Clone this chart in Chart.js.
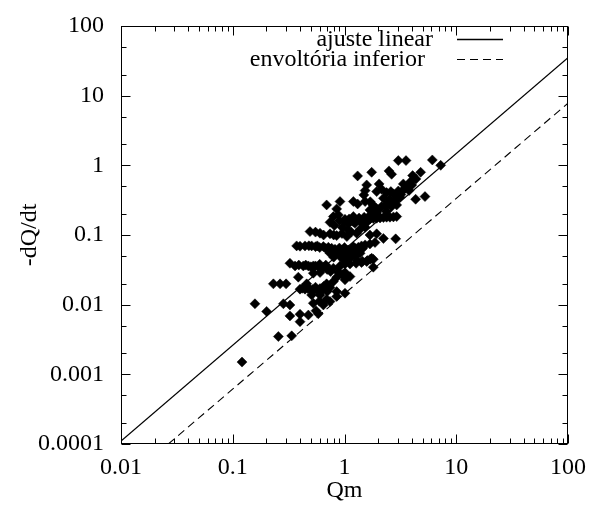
<!DOCTYPE html>
<html>
<head>
<meta charset="utf-8">
<script src="https://cdn.jsdelivr.net/npm/chart.js@4"></script>
<style>
  body { margin: 0; background: #fff; }
  #wrap { width: 589px; height: 515px; }
</style>
</head>
<body>
<div id="wrap"><canvas id="chart" width="589" height="515"></canvas></div>
<script>
// scatter data (Qm, -dQ/dt)
const qm = [
  3.03, 3.55, 6.11, 7.26, 1.31, 1.75, 2.50, 2.64, 4.07, 4.80, 4.36,
  1.58, 2.04, 3.36, 3.91, 3.60, 1.53, 1.94, 2.38, 2.74, 3.03, 3.36, 3.78, 1.49, 2.15,
  2.23, 2.52, 2.83, 3.14, 4.33, 5.25, 0.911, 1.20, 1.31, 1.53, 0.692, 0.851,
  1.69, 1.91, 2.15, 2.38, 2.64, 2.93, 1.94, 2.38,
  0.795, 0.881, 1.01, 1.20, 1.38, 1.47, 1.58, 1.69, 1.81, 1.94, 2.08, 2.23, 2.38, 2.55, 2.74, 2.93, 1.08, 1.24,
  0.742, 0.811, 0.956, 0.491, 0.604, 0.742, 0.851, 1.08, 1.05, 1.38, 1.53, 1.285, 1.69, 1.94,
  0.373, 0.443, 0.508, 0.571, 0.647, 0.717, 0.768, 0.822, 0.881, 0.943, 1.01, 1.08, 1.16, 1.24, 1.33, 1.42,
  1.53, 1.69, 1.875, 2.23, 2.87, 0.742, 0.822, 0.911, 1.01, 1.12, 1.24, 1.38, 1.05, 1.75,
  0.325, 0.361, 0.428, 0.475, 0.526, 0.583, 0.647, 0.717, 0.795, 0.911, 1.01, 1.12, 1.27, 1.42, 1.58, 1.81,
  1.81, 0.881, 1.01, 1.12, 0.851, 1.01, 0.386, 0.604, 0.526,
  0.231, 0.265, 0.300, 0.400, 0.443, 0.491, 0.544, 0.604, 0.669, 0.742, 0.459, 0.508, 0.604, 0.851, 1.01, 0.692, 0.795,
  0.158, 0.201, 0.284, 0.325, 0.526, 0.596, 0.647, 0.742, 0.692, 0.851,
  0.325, 0.400, 0.475, 0.400, 0.556, 0.583,
  0.256, 0.337, 0.121,
  // denser parts of the bands
  1.10, 1.25, 1.35, 1.50, 1.65, 1.80, 2.00, 1.45, 1.60, 1.20, 1.00, 0.90,
  0.40, 0.48, 0.55, 0.60, 0.68, 0.75, 0.85, 0.95, 1.05, 1.15, 1.30, 1.45, 0.80, 0.90, 1.20, 1.00,
  0.39, 0.45, 0.50, 0.55, 0.62, 0.70, 0.75, 0.68, 0.60,
  0.42, 0.47, 0.52, 0.57, 0.63, 0.70, 0.55, 0.65,
  0.80, 0.95, 1.10, 1.30, 1.45, 1.60, 1.70,
  2.30, 2.50, 2.90, 3.20, 2.60, 3.50, 4.00, 1.70, 1.80, 2.00,
  0.55, 0.65, 0.80, 0.95, 1.15, 0.95, 1.05
];
const dqdt = [
  1.17, 1.17, 1.195, 1.00, 0.705, 0.795, 0.831, 0.744, 0.712, 0.795, 0.638,
  0.523, 0.541, 0.541, 0.584, 0.495, 0.434, 0.420, 0.406, 0.389, 0.429, 0.444, 0.434, 0.376, 0.453,
  0.337, 0.326, 0.308, 0.348, 0.326, 0.356, 0.302, 0.302, 0.279, 0.302, 0.270, 0.237,
  0.229, 0.242, 0.256, 0.262, 0.256, 0.270, 0.210, 0.217,
  0.184, 0.194, 0.168, 0.184, 0.156, 0.161, 0.165, 0.170, 0.172, 0.174, 0.176, 0.178, 0.180, 0.180, 0.182, 0.184, 0.144, 0.1475,
  0.152, 0.1365, 0.128, 0.112, 0.106, 0.104, 0.098, 0.118, 0.095, 0.121, 0.129, 0.106, 0.100, 0.104,
  0.0698, 0.0698, 0.0698, 0.0698, 0.0682, 0.0667, 0.0646, 0.0625, 0.0611, 0.0611, 0.0611, 0.0611, 0.0625, 0.0646, 0.0667, 0.0698,
  0.0721, 0.0745, 0.078, 0.089, 0.088, 0.0547, 0.0518, 0.0518, 0.0501, 0.049, 0.0501, 0.0547, 0.0439, 0.0464,
  0.0393, 0.036, 0.036, 0.036, 0.036, 0.0352, 0.0345, 0.0334, 0.0334, 0.036, 0.0385, 0.0385, 0.0393, 0.0402, 0.0416, 0.0449,
  0.0345, 0.0289, 0.0289, 0.0253, 0.0248, 0.0227, 0.0248, 0.0289, 0.0283,
  0.0199, 0.0199, 0.0199, 0.0167, 0.0167, 0.0167, 0.0167, 0.0170, 0.0172, 0.0176, 0.0199, 0.0138, 0.0138, 0.0154, 0.0146, 0.0199, 0.0215,
  0.0103, 0.0080, 0.0103, 0.0099, 0.0105, 0.0112, 0.0099, 0.0111, 0.0120, 0.0131,
  0.0069, 0.0073, 0.0071, 0.0057, 0.0082, 0.0074,
  0.00349, 0.00357, 0.0015,
  0.170, 0.165, 0.175, 0.180, 0.185, 0.190, 0.190, 0.150, 0.155, 0.155, 0.155, 0.160,
  0.069, 0.070, 0.068, 0.066, 0.064, 0.062, 0.058, 0.057, 0.058, 0.059, 0.061, 0.064, 0.056, 0.065, 0.068, 0.066,
  0.037, 0.037, 0.035, 0.036, 0.034, 0.032, 0.030, 0.037, 0.038,
  0.0172, 0.0170, 0.0165, 0.0162, 0.0160, 0.0155, 0.0178, 0.0183,
  0.048, 0.046, 0.045, 0.043, 0.042, 0.043, 0.045,
  0.26, 0.30, 0.33, 0.38, 0.42, 0.47, 0.52, 0.30, 0.27, 0.23,
  0.110, 0.100, 0.100, 0.105, 0.110, 0.027, 0.026
];

// straight lines (end points)
const fitX = [0.01, 100];
const fitY = [0.00011, 35.1];
const envX = [0.0265, 100];
const envY = [0.0001, 7.8];

const xTickValues = [0.01, 0.1, 1, 10, 100];
const xTickLabels = ['0.01', '0.1', '1', '10', '100'];
const yTickValues = [0.0001, 0.001, 0.01, 0.1, 1, 10, 100];
const yTickLabels = ['0.0001', '0.001', '0.01', '0.1', '1', '10', '100'];
const xMinorSteps = [2, 3, 4, 5, 6, 7, 8, 9];
const yMinorSteps = [2, 5];

const FONT = "'Liberation Serif', 'Times New Roman', serif";

// gnuplot style frame, inward ticks on all four sides, legend inside the plot
const gnuplotFrame = {
  id: 'gnuplotFrame',
  afterDatasetsDraw(chart) {
    const { ctx, chartArea: a, scales: { x, y } } = chart;
    const L = Math.round(a.left) + 0.5, R = Math.round(a.right) - 0.5;
    const T = Math.round(a.top) + 0.5, B = Math.round(a.bottom) - 0.5;
    ctx.save();
    ctx.strokeStyle = '#000';
    ctx.lineWidth = 1;
    ctx.beginPath();
    const xTick = (v, len) => {
      const px = Math.round(x.getPixelForValue(v)) + 0.5;
      ctx.moveTo(px, B); ctx.lineTo(px, B - len);
      ctx.moveTo(px, T); ctx.lineTo(px, T + len);
    };
    const yTick = (v, len) => {
      const py = Math.round(y.getPixelForValue(v)) + 0.5;
      ctx.moveTo(L, py); ctx.lineTo(L + len, py);
      ctx.moveTo(R, py); ctx.lineTo(R - len, py);
    };
    xTickValues.forEach((v, i) => {
      xTick(v, 9);
      if (i < xTickValues.length - 1) xMinorSteps.forEach(s => xTick(v * s, 5));
    });
    yTickValues.forEach((v, i) => {
      yTick(v, 9);
      if (i < yTickValues.length - 1) yMinorSteps.forEach(s => yTick(v * s, 5));
    });
    ctx.stroke();
    ctx.strokeRect(L, T, R - L, B - T);

    // legend (text right-justified, line sample to the right)
    ctx.font = '24px ' + FONT;
    ctx.fillStyle = '#000';
    ctx.textAlign = 'right';
    ctx.textBaseline = 'middle';
    const rows = [chart.data.datasets[1], chart.data.datasets[2]];
    const textRight = [433, 425];
    rows.forEach((ds, i) => {
      const yy = 40 + i * 20;
      ctx.fillText(ds.label, textRight[i], yy);
      ctx.setLineDash(ds.borderDash || []);
      ctx.lineWidth = ds.borderWidth;
      ctx.beginPath();
      ctx.moveTo(457, yy - 0.5);
      ctx.lineTo(503, yy - 0.5);
      ctx.stroke();
    });
    ctx.restore();
  }
};

const ctx = document.getElementById('chart').getContext('2d');
new Chart(ctx, {
  type: 'scatter',
  data: {
    datasets: [
      {
        label: 'dados',
        data: qm.map((v, i) => ({ x: v, y: dqdt[i] })),
        pointStyle: 'rectRot',
        pointRadius: 5,
        pointBorderWidth: 0.5,
        backgroundColor: '#000',
        borderColor: '#000',
        showLine: false
      },
      {
        label: 'ajuste linear',
        data: fitX.map((v, i) => ({ x: v, y: fitY[i] })),
        showLine: true,
        borderColor: '#000',
        borderWidth: 1.3,
        pointRadius: 0
      },
      {
        label: 'envoltória inferior',
        data: envX.map((v, i) => ({ x: v, y: envY[i] })),
        showLine: true,
        borderColor: '#000',
        borderWidth: 1.1,
        borderDash: [8, 5],
        pointRadius: 0
      }
    ]
  },
  options: {
    responsive: false,
    animation: false,
    devicePixelRatio: 1,
    layout: { padding: { top: 26, right: 21, left: 0, bottom: 0 } },
    plugins: {
      legend: { display: false },
      tooltip: { enabled: false }
    },
    scales: {
      x: {
        type: 'logarithmic',
        min: 0.01,
        max: 100,
        afterBuildTicks: s => { s.ticks = xTickValues.map(v => ({ value: v })); },
        afterFit: s => { s.height = 71; },
        // ticks are drawn by the plugin; tickLength only offsets the labels
        grid: { display: false, drawTicks: true, tickLength: 9 },
        border: { display: false },
        ticks: {
          autoSkip: false,
          maxRotation: 0,
          padding: 0,
          color: '#000',
          font: { family: FONT, size: 24 },
          callback: (v, i) => xTickLabels[i]
        },
        title: {
          display: true,
          text: 'Qm',
          color: '#000',
          font: { family: FONT, size: 24 },
          padding: { top: 0, bottom: 10 }
        }
      },
      y: {
        type: 'logarithmic',
        min: 0.0001,
        max: 100,
        afterBuildTicks: s => { s.ticks = yTickValues.map(v => ({ value: v })); },
        afterFit: s => { s.width = 121; },
        grid: { display: false, drawTicks: true, tickLength: 15 },
        border: { display: false },
        ticks: {
          autoSkip: false,
          padding: 2,
          color: '#000',
          font: { family: FONT, size: 24 },
          callback: (v, i) => yTickLabels[i]
        },
        title: {
          display: true,
          text: '-dQ/dt',
          color: '#000',
          font: { family: FONT, size: 24 },
          padding: { top: 15, bottom: 0 }
        }
      }
    }
  },
  plugins: [gnuplotFrame]
});
</script>
</body>
</html>
